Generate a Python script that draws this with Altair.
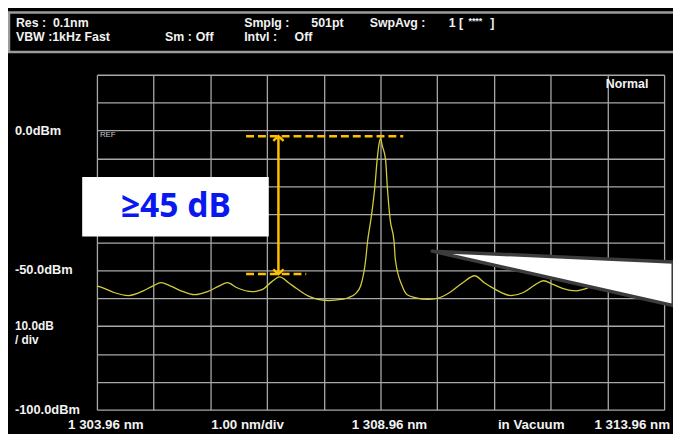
import altair as alt
import pandas as pd

# ---------------- data ----------------
wavelength_nm = [1303.96, 1304.10, 1304.26, 1304.52, 1304.78, 1304.95, 1305.09, 1305.25,
                 1305.48, 1305.68, 1305.91, 1306.12, 1306.26, 1306.43, 1306.70, 1306.87,
                 1307.04, 1307.18, 1307.34, 1307.48, 1307.71, 1308.05, 1308.26, 1308.40,
                 1308.52, 1308.61, 1308.70, 1308.73, 1308.79, 1308.86, 1308.90, 1308.93,
                 1308.96, 1308.99, 1309.05, 1309.08, 1309.13, 1309.20, 1309.22, 1309.34,
                 1309.43, 1309.57, 1309.80, 1310.01, 1310.18, 1310.41, 1310.62, 1310.79,
                 1310.96, 1311.26, 1311.48, 1311.69, 1311.83, 1312.01, 1312.18, 1312.41,
                 1312.58, 1312.79, 1312.97, 1313.23, 1313.49, 1313.75, 1313.96]
level_dbm = [-55.6, -56.6, -58.0, -59.1, -57.4, -55.6, -54.5, -55.6,
             -57.7, -58.8, -57.7, -55.6, -54.5, -56.3, -57.7, -57.0,
             -54.2, -52.4, -54.5, -56.6, -59.5, -60.9, -60.5, -59.8,
             -58.4, -55.6, -46.0, -40.0, -31.9, -20.2, -10.6, -5.3,
             -2.8, -5.3, -10.6, -20.2, -31.9, -40.0, -46.0, -55.6,
             -58.8, -59.8, -60.5, -59.8, -58.0, -54.5, -52.0, -54.5,
             -56.6, -59.1, -58.0, -55.2, -53.8, -55.2, -56.6, -57.4,
             -56.6, -54.9, -54.2, -55.9, -57.4, -56.3, -54.9]
assert len(wavelength_nm) == len(level_dbm)

start_nm, stop_nm = 1303.96, 1313.96
bottom_dbm, top_dbm = -100, 20
x_grid = [round(start_nm + i, 2) for i in range(11)]
y_grid = list(range(bottom_dbm, top_dbm + 1, 10))

left_label_text = ["0.0dBm", "-50.0dBm", "-100.0dBm"]
left_label_level = [0, -50, -100]
div_label_text = ["10.0dB", "/ div"]
div_label_level = [-69.9, -75.0]

bottom_label_text = ["1 303.96 nm", "1.00 nm/div", "1 308.96 nm", "in Vacuum"]
bottom_label_wl = [1303.96, 1306.46, 1308.96, 1311.46]
end_label_text = "1 313.96 nm"

NB = "\u00a0"
header_text = ["Res :" + NB * 2 + "0.1nm", "VBW :1kHz Fast", "Sm :", "Off", "Smplg :", "501pt",
               "Intvl :", "Off", "SwpAvg :", "1 [", "****", "]"]
header_layout = [(-82, -52), (-82, -38), (69, -38), (100, -38), (149, -52), (217, -52),
                 (149, -38), (200, -38), (276, -52), (356, -52), (376, -54), (398, -52)]
header_size = [12.5, 12.5, 12.5, 12.5, 12.5, 12.5, 12.5, 12.5, 12.5, 12.5, 9, 12.5]

# annotation values
peak_line_dbm = -2.0
side_line_dbm = -51.4
peak_line_wl = [1306.59, 1309.36]
side_line_wl = [1306.59, 1307.65]
arrow_wl = 1307.16
box_wl = [1303.70, 1306.99]
box_dbm = [-16.6, -37.9]
box_text = "\u226545 dB"
box_text_pos = (1305.35, -27.3)
callout_wl = [1309.87, 1314.12]
callout_top = [-43.2, -47.1]
callout_bottom = [-43.2, -62.7]

GOLD = "#FFC000"
TRACE = "#d2cc3a"
GRID = "#a8a8a8"
TXT = "#f2f2f2"
FONT = "Liberation Sans, Arial, sans-serif"

# ---------------- scales/axes ----------------
xs = alt.Scale(domain=[start_nm, stop_nm], nice=False, zero=False)
ys = alt.Scale(domain=[bottom_dbm, top_dbm], nice=False, zero=False)
AX = alt.Axis(values=x_grid, grid=True, labels=False, ticks=False, domain=False, title=None,
              gridColor=GRID, gridWidth=1.3, gridOpacity=1)
AY = alt.Axis(values=y_grid, grid=True, labels=False, ticks=False, domain=False, title=None,
              gridColor=GRID, gridWidth=1.3, gridOpacity=1)


def X(f="wl"):
    return alt.X(f"{f}:Q", scale=xs, axis=AX)


def Y(f="dbm"):
    return alt.Y(f"{f}:Q", scale=ys, axis=AY)


trace_df = pd.DataFrame({"wl": wavelength_nm, "dbm": level_dbm})
trace = alt.Chart(trace_df).mark_line(color=TRACE, strokeWidth=1.3, interpolate="monotone").encode(
    x=X(), y=Y())

# header box
one = pd.DataFrame({"a": [0]})
header_box = alt.Chart(one).mark_rect(fillOpacity=0, stroke="#9c9c9c", strokeWidth=2.5).encode(
    x=alt.value(-89), x2=alt.value(600), y=alt.value(-63), y2=alt.value(-23))

header_layers = []
for t, (px, py), fs in zip(header_text, header_layout, header_size):
    header_layers.append(
        alt.Chart(one).mark_text(text=t, font=FONT, fontSize=fs, fontWeight="bold", color=TXT,
                                 align="left", baseline="middle").encode(
            x=alt.value(px), y=alt.value(py)))

normal_txt = alt.Chart(one).mark_text(text="Normal", font=FONT, fontSize=12.5, fontWeight="bold",
                                      color=TXT, align="left", baseline="middle").encode(
    x=alt.value(515), y=alt.value(9.5))

left_df = pd.DataFrame({"wl": [start_nm] * len(left_label_text), "dbm": left_label_level,
                        "t": left_label_text})
left_labels = alt.Chart(left_df).mark_text(font=FONT, fontSize=13, fontWeight="bold", color=TXT,
                                           align="left", baseline="middle", dx=-83).encode(
    x=X(), y=Y(), text="t:N")
div_df = pd.DataFrame({"wl": [start_nm] * len(div_label_text), "dbm": div_label_level,
                       "t": div_label_text})
div_labels = alt.Chart(div_df).mark_text(font=FONT, fontSize=12, fontWeight="bold", color=TXT,
                                         align="left", baseline="middle", dx=-83).encode(
    x=X(), y=Y(), text="t:N")

bot_df = pd.DataFrame({"wl": bottom_label_wl, "dbm": [bottom_dbm] * len(bottom_label_wl),
                       "t": bottom_label_text})
bottom_labels = alt.Chart(bot_df).mark_text(font=FONT, fontSize=13.5, fontWeight="bold", color=TXT,
                                            align="center", baseline="middle", dx=9, dy=15).encode(
    x=X(), y=Y(), text="t:N")
end_df = pd.DataFrame({"wl": [stop_nm], "dbm": [bottom_dbm], "t": [end_label_text]})
end_label = alt.Chart(end_df).mark_text(font=FONT, fontSize=13.5, fontWeight="bold", color=TXT,
                                        align="right", baseline="middle", dx=6, dy=15).encode(
    x=X(), y=Y(), text="t:N")

ref_df = pd.DataFrame({"wl": [start_nm], "dbm": [0], "t": ["REF"]})
ref_label = alt.Chart(ref_df).mark_text(font=FONT, fontSize=8, color="#c8c8c8", align="left",
                                        baseline="middle", dx=3, dy=4.5).encode(
    x=X(), y=Y(), text="t:N")

# annotations
dash_df = pd.DataFrame({"wl": [peak_line_wl[0], side_line_wl[0]],
                        "wl2": [peak_line_wl[1], side_line_wl[1]],
                        "dbm": [peak_line_dbm, side_line_dbm]})
dashes = alt.Chart(dash_df).mark_rule(color=GOLD, strokeWidth=2.5, strokeDash=[8, 4]).encode(
    x=X(), x2="wl2:Q", y=Y())

arrow_df = pd.DataFrame({"wl": [arrow_wl], "dbm": [peak_line_dbm], "dbm2": [side_line_dbm]})
arrow = alt.Chart(arrow_df).mark_rule(color=GOLD, strokeWidth=2.5).encode(
    x=X(), y=Y(), y2="dbm2:Q")
head_top = alt.Chart(pd.DataFrame({"wl": [arrow_wl], "dbm": [peak_line_dbm]})).mark_point(
    shape="M-1,0.9L0,0L1,0.9", size=110, filled=False, color=GOLD, strokeWidth=2.5, opacity=1).encode(
    x=X(), y=Y())
head_bot = alt.Chart(pd.DataFrame({"wl": [arrow_wl], "dbm": [side_line_dbm]})).mark_point(
    shape="M-1,-0.9L0,0L1,-0.9", size=110, filled=False, color=GOLD, strokeWidth=2.5, opacity=1).encode(
    x=X(), y=Y())

box_df = pd.DataFrame({"wl": [box_wl[0]], "wl2": [box_wl[1]], "dbm": [box_dbm[0]], "dbm2": [box_dbm[1]]})
box = alt.Chart(box_df).mark_rect(color="white").encode(x=X(), x2="wl2:Q", y=Y(), y2="dbm2:Q")
box_t = alt.Chart(pd.DataFrame({"wl": [box_text_pos[0]], "dbm": [box_text_pos[1]], "t": [box_text]})).mark_text(
    font="Noto Sans, Open Sans, sans-serif", fontSize=34, fontWeight="bold", color="#0a18f0",
    align="center", baseline="middle").encode(x=X(), y=Y(), text="t:N")

callout_df = pd.DataFrame({"wl": callout_wl, "dbm": callout_top, "dbm2": callout_bottom})
callout = alt.Chart(callout_df).mark_area(fill="white", stroke="#3c3c3c", strokeWidth=3.5,
                                          strokeJoin="round", opacity=1, fillOpacity=1).encode(
    x=X(), y=Y(), y2="dbm2:Q")

chart = alt.layer(
    trace, header_box, *header_layers, normal_txt, left_labels, div_labels, bottom_labels, end_label,
    ref_label, dashes, arrow, head_top, head_bot, box, box_t, callout
).properties(
    width=574, height=339,
    padding={"left": 90, "top": 65, "right": 9, "bottom": 22},
    autosize=alt.AutoSizeParams(type="none"),
    background="black",
).configure_view(strokeWidth=0)

chart.save("out.html", embed_options={"renderer": "svg", "actions": False})
